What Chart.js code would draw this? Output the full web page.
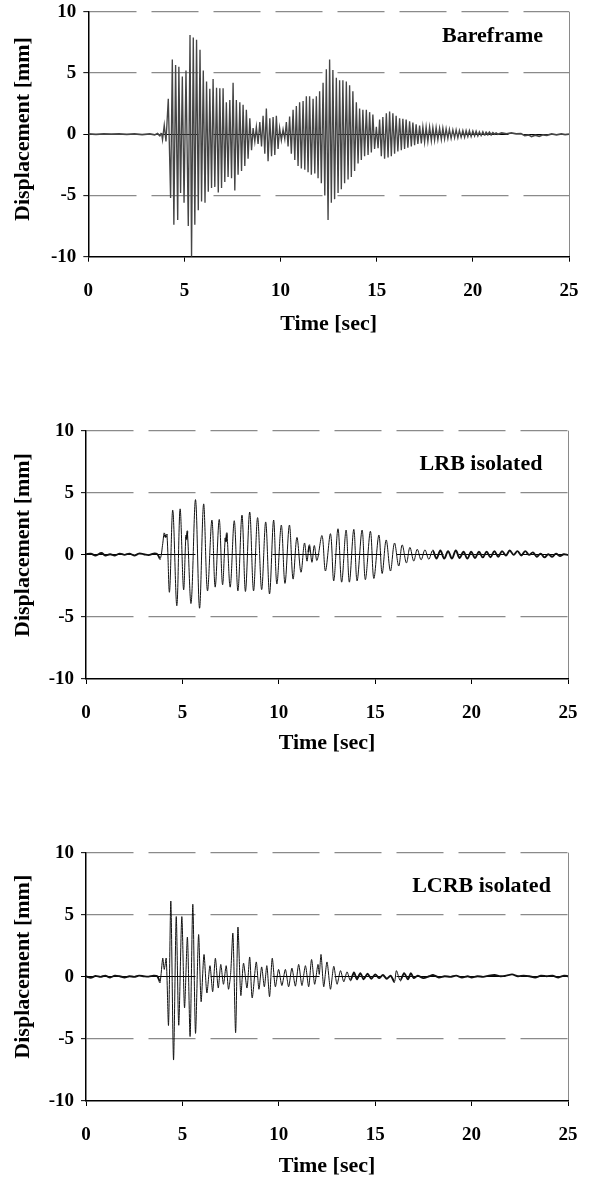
<!DOCTYPE html>
<html><head><meta charset="utf-8">
<script src="https://cdn.jsdelivr.net/npm/chart.js@4.4.1/dist/chart.umd.min.js"></script>
<style>
html,body{margin:0;padding:0;background:#fff;width:590px;height:1180px;overflow:hidden;position:relative}
canvas{position:absolute;left:0}
</style></head><body>
<canvas id="c1" width="590" height="345" style="top:0px"></canvas>
<canvas id="c2" width="590" height="360" style="top:400px"></canvas>
<canvas id="c3" width="590" height="360" style="top:820px"></canvas>
<script>
// ---------------- data ----------------
const timeTicks = [0, 5, 10, 15, 20, 25];
const dispTicks = [-10, -5, 0, 5, 10];
const xTitle = 'Time [sec]';
const yTitle = 'Displacement [mm]';
const panelNames = ['Bareframe', 'LRB isolated', 'LCRB isolated'];

// Bareframe: time [sec] / displacement [mm] (peaks)
const bareTime = [
 0.00,0.40,0.80,1.20,1.60,2.00,2.40,2.80,3.20,3.45,3.60,3.72,3.81,3.86,3.95,4.04,
 4.16,4.28,4.37,4.45,4.54,4.65,4.71,4.80,4.89,4.98,
 5.08,5.20,5.29,5.37,5.46,5.54,5.63,5.72,5.81,5.89,
 5.98,6.07,6.15,6.24,6.32,6.41,6.49,6.58,6.67,6.76,
 6.84,6.93,7.01,7.10,7.18,7.27,7.36,7.45,7.53,7.62,
 7.70,7.79,7.88,7.97,8.05,8.14,8.22,8.31,8.40,8.49,
 8.57,8.66,8.74,8.83,8.92,9.01,9.09,9.18,9.26,9.35,
 9.44,9.53,9.61,9.70,9.78,9.87,9.95,10.04,10.13,10.22,
 10.30,10.39,10.47,10.56,10.65,10.74,10.82,10.91,10.99,11.08,
 11.17,11.26,11.34,11.43,11.51,11.60,11.69,11.78,11.86,11.95,
 12.03,12.12,12.21,12.30,12.38,12.47,12.55,12.64,12.72,12.81,
 12.90,12.99,13.07,13.16,13.24,13.33,13.42,13.51,13.59,13.68,
 13.76,13.85,13.94,14.03,14.11,14.20,14.28,14.37,14.46,14.55,
 14.63,14.72,14.80,14.89,14.98,15.07,15.15,15.24,15.32,15.41,
 15.50,15.59,15.67,15.76,15.84,15.93,16.01,16.10,16.19,16.28,
 16.36,16.45,16.53,16.62,16.71,16.80,16.88,16.97,17.05,17.14,
 17.23,17.32,17.40,17.49,17.57,17.66,17.75,17.84,17.92,18.01,
 18.09,18.18,18.27,18.36,18.44,18.53,18.61,18.70,18.78,18.87,
 18.96,19.05,19.13,19.22,19.30,19.39,19.48,19.57,19.65,19.74,
 19.82,19.91,20.00,20.09,20.17,20.26,20.34,20.43,20.52,20.61,
 20.69,20.78,20.86,20.95,21.04,21.13,21.21,21.30,
 21.50,21.75,22.00,22.25,22.50,22.70,22.90,23.05,23.25,23.45,23.65,23.85,24.10,24.35,24.60,24.80,25.00
];
const bareDisp = [
 0.02,-0.02,0.03,0.00,0.03,-0.02,0.02,-0.03,0.02,-0.06,0.05,-0.12,0.10,-0.45,0.75,-0.60,
 2.9,-5.2,6.1,-7.4,5.65,-7.0,5.5,-4.8,4.7,-5.6,
 5.2,-7.5,8.1,-10.0,7.9,-7.4,7.7,-6.2,6.9,-5.5,
 5.2,-5.6,4.3,-4.7,3.7,-4.4,4.5,-4.3,3.8,-4.75,
 3.75,-4.4,3.75,-3.9,2.6,-3.5,2.8,-3.6,4.2,-4.6,
 2.8,-3.3,2.6,-3.0,2.4,-2.6,2.0,-2.0,1.3,-1.3,
 0.5,-0.6,0.6,-0.8,1.0,-1.0,1.5,-1.6,2.1,-2.2,
 1.3,-1.8,1.4,-1.7,1.5,-1.2,0.5,-0.5,0.4,-0.4,
 1.0,-1.0,1.45,-1.6,2.0,-2.1,2.3,-2.6,2.6,-2.8,
 2.7,-2.9,3.1,-3.1,3.1,-3.3,2.9,-3.2,3.1,-3.6,
 3.5,-4.0,4.2,-5.0,5.3,-7.0,6.1,-5.6,5.25,-5.3,
 4.6,-4.8,4.4,-4.5,4.4,-4.0,4.3,-3.7,4.0,-3.5,
 3.5,-3.0,2.6,-2.4,2.1,-2.1,2.0,-1.8,2.0,-1.7,
 1.8,-1.5,1.6,-1.2,0.6,-1.15,1.2,-1.8,1.4,-2.0,
 1.7,-1.9,1.85,-1.8,1.7,-1.6,1.5,-1.4,1.3,-1.3,
 1.25,-1.2,1.2,-1.1,1.05,-1.0,0.95,-0.9,0.8,-0.8,
 0.7,-0.75,0.6,-0.65,0.6,-0.6,0.6,-0.55,0.55,-0.5,
 0.55,-0.45,0.5,-0.45,0.5,-0.4,0.45,-0.35,0.4,-0.35,
 0.35,-0.3,0.35,-0.3,0.3,-0.25,0.3,-0.25,0.3,-0.2,
 0.3,-0.2,0.27,-0.15,0.25,-0.15,0.2,-0.12,0.2,-0.1,
 0.15,-0.05,0.15,-0.05,0.12,0.0,0.1,0.0,
 0.1,0.03,0.1,0.02,0.05,-0.12,-0.05,-0.2,-0.08,-0.18,-0.05,-0.1,0.02,-0.05,0.02,-0.03,0.0
];

// LRB isolated
const lrbTime = [
 0.00,0.25,0.50,0.80,1.00,1.25,1.50,1.75,2.00,2.25,2.50,2.75,3.00,3.25,3.50,3.70,3.85,
 3.98,4.05,4.12,4.20,4.33,4.50,4.71,4.88,5.06,5.18,5.22,5.26,
 5.45,5.68,5.89,6.10,6.30,6.53,6.70,6.91,7.08,7.22,7.26,7.31,
 7.48,7.69,7.88,8.09,8.27,8.49,8.69,8.90,9.11,9.32,
 9.52,9.73,9.90,10.13,10.32,10.55,10.74,10.94,11.15,11.33,
 11.46,11.53,11.60,11.72,11.84,11.98,
 12.24,12.42,12.68,12.85,13.07,13.26,13.49,13.66,13.89,14.06,
 14.32,14.49,14.75,14.93,15.19,15.36,15.57,15.79,16.00,16.22,
 16.40,16.62,16.80,17.00,17.18,
 17.38,17.58,17.78,17.98,18.18,18.38,18.58,18.78,18.98,19.18,
 19.38,19.58,19.78,19.98,20.18,20.38,20.58,20.78,20.98,21.18,
 21.38,21.58,21.78,21.98,22.18,22.38,22.58,22.78,22.98,23.18,
 23.38,23.58,23.78,23.98,24.18,24.38,24.58,24.78,25.00
];
const lrbDisp = [
 0.05,0.10,-0.05,0.15,-0.05,0.05,-0.05,0.10,0.00,0.10,-0.05,0.10,0.05,-0.02,0.10,0.05,-0.30,
 0.9,1.7,1.45,1.6,-3.0,3.6,-4.1,3.7,-2.8,1.5,1.3,1.85,
 -3.9,4.45,-4.3,4.1,-2.9,2.8,-2.6,2.85,-2.4,1.3,1.1,1.7,
 -2.6,2.75,-2.9,3.2,-2.95,3.45,-2.9,3.0,-2.8,2.65,
 -3.15,2.8,-2.35,2.4,-2.3,2.4,-1.95,1.4,-1.4,0.95,
 -0.5,0.2,0.75,-0.6,0.75,-0.45,
 1.55,-1.3,1.7,-2.1,2.1,-2.2,2.0,-2.2,2.05,-2.1,
 2.0,-2.0,1.9,-1.9,1.6,-1.5,1.2,-1.3,0.95,-0.9,
 0.8,-0.65,0.6,-0.5,0.45,
 -0.4,0.4,-0.35,0.35,-0.3,0.35,-0.3,0.3,-0.3,0.35,
 -0.25,0.25,-0.3,0.25,-0.25,0.25,-0.2,0.25,-0.2,0.3,
 -0.15,0.3,-0.05,0.35,0.0,0.3,-0.05,0.3,0.0,0.2,
 -0.15,0.1,-0.2,0.05,-0.15,0.1,-0.1,0.05,-0.02
];

// LCRB isolated
const lcrbTime = [
 0.00,0.25,0.50,0.75,1.00,1.25,1.50,1.75,2.00,2.25,2.50,2.75,3.00,3.25,3.50,3.70,3.84,
 3.98,4.06,4.16,4.28,4.40,4.54,4.68,4.81,4.97,5.11,
 5.26,5.40,5.54,5.68,5.84,5.97,6.12,6.27,6.43,6.57,
 6.71,6.86,6.99,7.13,7.27,7.39,7.50,7.62,7.76,7.88,
 8.03,8.17,8.35,8.49,8.62,8.83,8.97,9.11,9.25,9.38,
 9.52,9.66,9.82,9.99,10.16,10.34,10.51,10.68,10.86,11.03,
 11.20,11.38,11.55,11.70,11.86,12.03,12.10,12.19,12.33,12.50,
 12.68,12.85,13.02,13.20,13.37,13.54,13.71,13.90,14.05,14.23,
 14.40,
 14.60,14.80,15.00,15.20,15.40,15.60,15.80,16.00,16.10,16.30,
 16.50,16.70,16.85,17.00,17.20,17.50,17.80,18.00,18.30,18.60,
 18.90,19.20,19.50,19.80,20.00,20.30,20.60,20.90,21.20,21.50,
 21.80,22.10,22.40,22.70,23.00,23.30,23.60,23.90,24.20,24.50,
 24.80,25.00
];
const lcrbDisp = [
 0.05,-0.08,0.08,0.00,0.10,-0.05,0.10,0.05,-0.05,0.05,0.00,0.10,0.05,0.02,0.10,0.05,-0.40,
 1.5,0.6,1.5,-3.9,6.1,-6.7,4.85,-3.9,4.85,-2.5,
 3.2,-4.8,5.85,-4.55,3.4,-2.0,1.8,-1.3,0.9,-1.2,
 1.5,-0.9,1.0,-0.6,0.9,-1.0,0.2,3.5,-4.5,4.0,
 -1.5,1.1,-0.9,1.6,-1.7,1.2,-1.0,0.8,-0.8,0.9,
 -1.6,1.5,-0.8,0.6,-0.7,0.6,-0.8,0.7,-0.75,1.0,
 -0.7,0.9,-0.8,1.4,-0.6,1.0,0.2,1.8,-0.8,1.2,
 -1.0,0.85,-0.6,0.5,-0.4,0.4,-0.3,0.35,-0.2,0.3,
 -0.2,
 0.25,-0.15,0.2,-0.1,0.15,-0.15,0.1,-0.4,0.5,-0.3,
 0.3,-0.2,0.3,-0.1,0.1,-0.1,0.05,0.15,-0.05,0.05,
 0.0,0.1,-0.05,0.05,-0.05,0.05,0.0,0.1,0.15,0.05,
 0.1,0.2,0.05,0.1,0.05,-0.05,0.1,0.05,0.1,-0.05,
 0.1,0.05
];

// ---------------- drawing ----------------
Chart.defaults.font.family = '"Liberation Serif", "Times New Roman", serif';
Chart.defaults.color = '#000';

const panelPlugin = {
  id: 'panelText',
  afterDraw(chart, args, o) {
    const ctx = chart.ctx;
    ctx.save();
    ctx.fillStyle = '#000';
    ctx.font = 'bold 22px "Liberation Serif", "Times New Roman", serif';
    ctx.textAlign = 'center';
    ctx.textBaseline = 'alphabetic';
    ctx.fillText(o.label, o.lx, o.ly);
    ctx.translate(o.tx, o.ty);
    ctx.rotate(-Math.PI / 2);
    ctx.textBaseline = 'middle';
    ctx.fillText(yTitle, 0, 0);
    ctx.restore();
  }
};

function makeChart(id, times, disps, panel, geo, line) {
  const pts = times.map((t, i) => ({x: t, y: disps[i]}));
  return new Chart(document.getElementById(id), {
    type: 'line',
    data: {datasets: [{
      data: pts, borderColor: line.color, borderWidth: line.narrow,
      pointRadius: 0, tension: line.tension, fill: false,
      segment: {borderWidth: c => Math.abs(c.p1.parsed.y - c.p0.parsed.y) < line.limit ? line.wide : line.narrow}
    }]},
    options: {
      responsive: false, animation: false, events: [],
      layout: {padding: {top: geo.top, right: geo.right, bottom: 0, left: 0}},
      plugins: {legend: {display: false}, tooltip: {enabled: false}, panelText: panel},
      scales: {
        x: {
          type: 'linear', min: 0, max: 25,
          afterBuildTicks: s => { s.ticks = timeTicks.map(v => ({value: v})); },
          afterFit: s => { s.height = geo.xh; s.paddingLeft = 0; s.paddingRight = 0; },
          grid: {
            color: c => (c.tick && c.tick.value === 25) ? '#8a8a8a' : 'rgba(0,0,0,0)',
            lineWidth: 1, drawTicks: true, tickLength: 5, tickColor: '#000', tickWidth: 1
          },
          border: {color: '#000', width: 1.5},
          ticks: {color: '#000', font: {size: 19, weight: 'bold'}, padding: 17.5, maxRotation: 0, autoSkip: false},
          title: {display: true, text: xTitle, color: '#000', font: {size: 22, weight: 'bold'}, padding: {top: 0, bottom: geo.xtp}}
        },
        y: {
          min: -10, max: 10, z: 1,
          afterBuildTicks: s => { s.ticks = dispTicks.map(v => ({value: v})); },
          afterFit: s => { s.width = geo.left; s.paddingTop = 0; s.paddingBottom = 0; },
          grid: {
            color: c => {
              const v = c.tick ? c.tick.value : null;
              if (v === 0) return '#000';
              if (v === -10) return 'rgba(0,0,0,0)';
              return '#8a8a8a';
            },
            lineWidth: c => (c.tick && c.tick.value === 0) ? 1 : 1.3,
            drawTicks: true, tickLength: 5, tickColor: '#000', tickWidth: 1
          },
          border: {color: '#000', width: 1.5, dash: [47, 15]},
          ticks: {color: '#000', font: {size: 19, weight: 'bold'}, padding: 7}
        }
      }
    },
    plugins: [panelPlugin]
  });
}

makeChart('c1', bareTime, bareDisp,
  {label: panelNames[0], lx: 492.5, ly: 41.7, tx: 23.5, ty: 129},
  {top: 11.7, right: 21, left: 88.3, xh: 88.3, xtp: 7.8},
  {color: '#454545', narrow: 1.35, wide: 1.7, limit: 0.3, tension: 0});
makeChart('c2', lrbTime, lrbDisp,
  {label: panelNames[1], lx: 481, ly: 70, tx: 23.5, ty: 145},
  {top: 30.7, right: 22, left: 86, xh: 81, xtp: 3.8},
  {color: '#111', narrow: 1, wide: 1.9, limit: 0.7, tension: 0.35});
makeChart('c3', lcrbTime, lcrbDisp,
  {label: panelNames[2], lx: 481.5, ly: 72.3, tx: 23.5, ty: 146.7},
  {top: 32.7, right: 22, left: 86, xh: 79, xtp: 0},
  {color: '#111', narrow: 1, wide: 1.9, limit: 0.7, tension: 0.25});
</script>
</body></html>
